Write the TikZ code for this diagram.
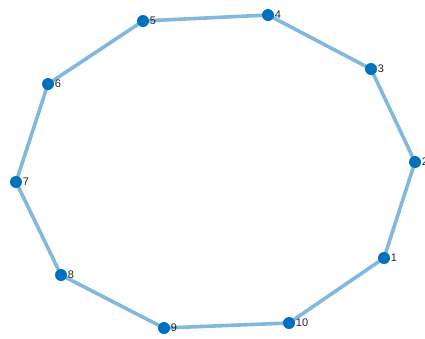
\documentclass[tikz,border=0pt]{standalone}
\usepackage{fontspec}
\setmainfont{Liberation Sans}
\usetikzlibrary{backgrounds}
\definecolor{dotblue}{RGB}{0,114,189}
\definecolor{edgeblue}{RGB}{128,184,222}
\definecolor{labelgray}{RGB}{38,38,38}
\tikzset{
  vertex/.style={circle,fill=dotblue,inner sep=0pt,minimum size=12pt,
    label={[labelgray,inner sep=0.5pt,font=\fontsize{11}{13}\selectfont]east:#1}},
  edge/.style={edgeblue,line width=3.6pt}
}

\begin{document}
\begin{tikzpicture}[x=1pt,y=-1pt]
\useasboundingbox (0,0) rectangle (425,338);
\node[vertex=1] (n1) at (384,258) {};
\node[vertex=2] (n2) at (415,162) {};
\node[vertex=3] (n3) at (371,69) {};
\node[vertex=4] (n4) at (268,15) {};
\node[vertex=5] (n5) at (143,21) {};
\node[vertex=6] (n6) at (48,84) {};
\node[vertex=7] (n7) at (16,182) {};
\node[vertex=8] (n8) at (61,275) {};
\node[vertex=9] (n9) at (164,328) {};
\node[vertex=10] (n10) at (289,323) {};
\begin{scope}[on background layer]
\draw[edge] (n1.center) -- (n2.center);
\draw[edge] (n2.center) -- (n3.center);
\draw[edge] (n3.center) -- (n4.center);
\draw[edge] (n4.center) -- (n5.center);
\draw[edge] (n5.center) -- (n6.center);
\draw[edge] (n6.center) -- (n7.center);
\draw[edge] (n7.center) -- (n8.center);
\draw[edge] (n8.center) -- (n9.center);
\draw[edge] (n9.center) -- (n10.center);
\draw[edge] (n10.center) -- (n1.center);
\end{scope}
\end{tikzpicture}
\end{document}
